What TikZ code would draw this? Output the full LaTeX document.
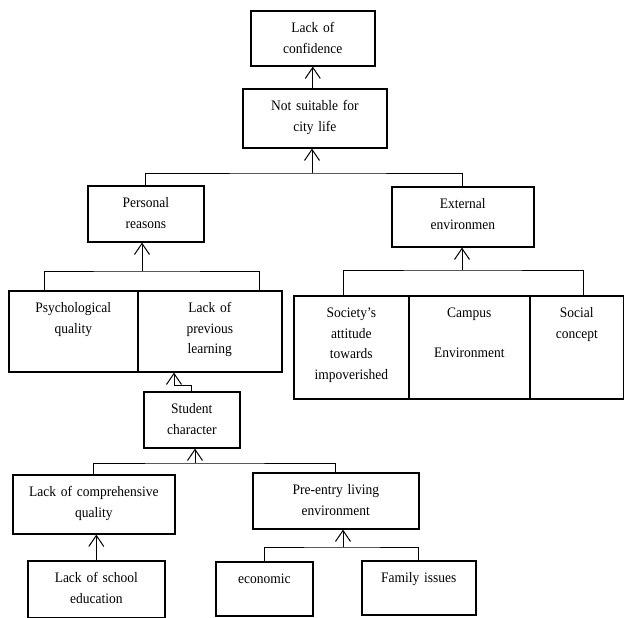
\documentclass[tikz,border=0pt]{standalone}
\usepackage{fontspec}
\setmainfont{Liberation Serif}[FakeStretch=0.93,WordSpace=0.85]
\usetikzlibrary{arrows.meta}

\begin{document}
\begin{tikzpicture}[x=1pt,y=-1pt,font={\fontsize{14.5pt}{20.5pt}\selectfont}]
\tikzstyle{b}=[draw,line width=1.6pt,align=center,inner sep=4pt,text height=18pt,anchor=north west]
\tikzstyle{ln}=[line width=1pt]
\tikzstyle{ar}=[line width=1pt,-{Straight Barb[length=11pt,width=15pt]}]
\useasboundingbox (0,0) rectangle (624,618);
\foreach \n/\x/\y/\w/\h/\t in {conf/250/10/124/55/{Lack of\\confidence},
  city/242/88/144/59/{Not suitable for\\city life},
  pers/87/185/116/56/{Personal\\reasons},
  ext/391/186/142/60/{External\\environmen},
  psy/8/290/129/81/{Psychological\\quality},
  prev/137/290/144/81/{Lack of\\previous\\learning},
  soc/293/295/115/103/{Society’s\\attitude\\towards\\impoverished},
  camp/408/295/121/103/{Campus\\[19pt]Environment},
  conc/529/295/94/103/{Social\\concept},
  stu/143/391/96/56/{Student\\character},
  comp/12/474/162/59/{Lack of comprehensive\\quality},
  pre/252/472/166/56/{Pre-entry living\\environment},
  sch/27/560/137/57/{Lack of school\\education},
  eco/215/561/97/54/{economic},
  fam/361/560/114/54/{Family issues}} {
  \pgfmathsetmacro\tw{\w-8}
  \pgfmathsetmacro\td{\h-26}
  \node[b,text width=\tw pt,text depth=\td pt] (\n) at (\x,\y) {\t};
}
\coordinate (j1) at (312,173);
\coordinate (j2) at (142,271);
\coordinate (j3) at (462,270);
\coordinate (j4) at (174,385);
\coordinate (j5) at (195,463);
\coordinate (j6) at (343,547);
\draw[ar] (city.north -| conf.south) -- (conf.south);
\draw[ar] (j1) -- (j1 |- city.south);
\draw[ln] (pers.north) |- (j1) -| (ext.north);
\draw[ar] (j2) -- (j2 |- pers.south);
\draw[ln] ([xshift=36pt]psy.north west) |- (j2) -| ([xshift=-23pt]prev.north east);
\draw[ar] (j3) -- (j3 |- ext.south);
\draw[ln] ([xshift=-8pt]soc.north) |- (j3) -| ([xshift=7pt]conc.north);
\draw[ar] (stu.north) |- (j4) -- (j4 |- prev.south);
\draw[ar] (j5) -- (j5 |- stu.south);
\draw[ln] (comp.north) |- (j5) -| (pre.north);
\draw[ar] (sch.north) -- (sch.north |- comp.south);
\draw[ar] (j6) -- (j6 |- pre.south);
\draw[ln] (eco.north) |- (j6) -| (fam.north);
\end{tikzpicture}
\end{document}
